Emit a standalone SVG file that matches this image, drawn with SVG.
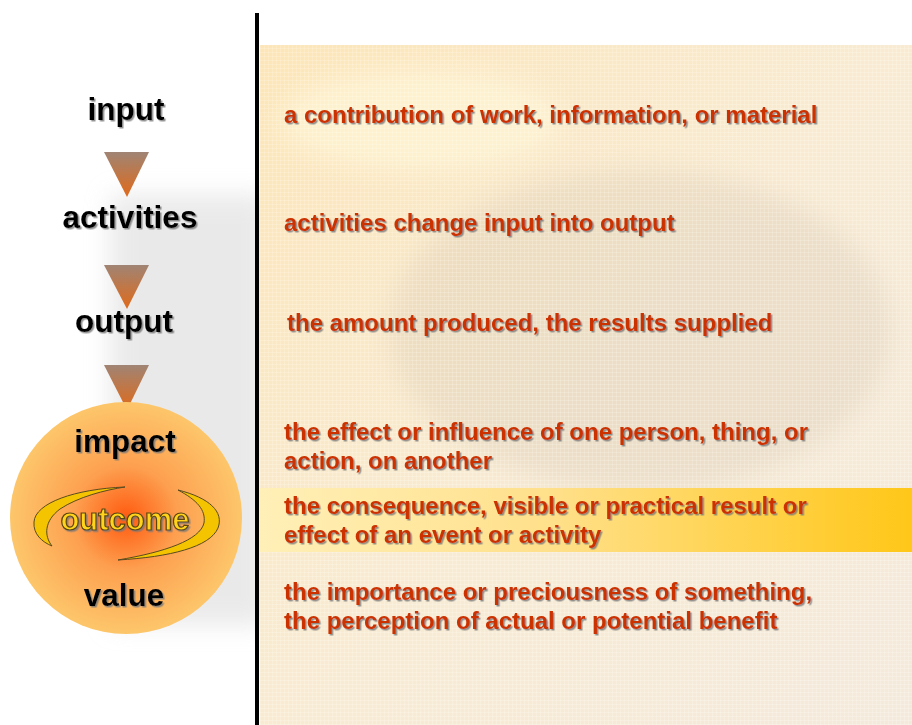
<svg xmlns="http://www.w3.org/2000/svg" width="912" height="725" viewBox="0 0 912 725">
<defs>
<style>
.lbl{font-family:"Liberation Sans",Arial,sans-serif;font-weight:bold;font-size:31.5px;fill:#000;text-anchor:middle}
.def{font-family:"Liberation Sans",Arial,sans-serif;font-weight:bold;font-size:24px;fill:#cc3300}
.sh{filter:url(#shadow)}
</style>
<filter id="shadow" x="-10%" y="-30%" width="120%" height="160%">
<feDropShadow dx="1.5" dy="1.5" stdDeviation="0.6" flood-color="#777" flood-opacity="0.8"/>
</filter>
<filter id="blur" x="-20%" y="-20%" width="140%" height="140%"><feGaussianBlur stdDeviation="12"/></filter>
<linearGradient id="tri" x1="0" y1="0" x2="0" y2="1">
<stop offset="0" stop-color="#a08474"/><stop offset="1" stop-color="#e06a1a"/>
</linearGradient>
<radialGradient id="circ" cx="0.5" cy="0.5" r="0.5">
<stop offset="0" stop-color="#ff5a10"/><stop offset="0.45" stop-color="#fda050"/><stop offset="1" stop-color="#fdc66a"/>
</radialGradient>
<linearGradient id="band" x1="0" y1="0" x2="1" y2="0">
<stop offset="0" stop-color="#fff0b8"/><stop offset="0.45" stop-color="#ffe08a"/><stop offset="1" stop-color="#ffc718"/>
</linearGradient>
<linearGradient id="panel" x1="0" y1="0" x2="1" y2="1">
<stop offset="0" stop-color="#fce6b8"/><stop offset="0.5" stop-color="#f8ebd2"/><stop offset="1" stop-color="#f4eadc"/>
</linearGradient>
<pattern id="grid" width="4" height="4" patternUnits="userSpaceOnUse">
<path d="M4 0H0V4" fill="none" stroke="#ffffff" stroke-opacity="0.35" stroke-width="1"/>
</pattern>
</defs>
<rect width="912" height="725" fill="#ffffff"/>
<rect x="110" y="195" width="160" height="430" fill="#dcdcdc" opacity="0.6" filter="url(#blur)"/>
<rect x="260" y="45" width="652" height="680" fill="url(#panel)"/>
<ellipse cx="640" cy="330" rx="250" ry="160" fill="#d8c8b0" opacity="0.35" filter="url(#blur)"/>
<ellipse cx="420" cy="120" rx="140" ry="50" fill="#fff8d8" opacity="0.6" filter="url(#blur)"/>
<rect x="260" y="45" width="652" height="680" fill="url(#grid)"/>
<rect x="258" y="488" width="654" height="64" fill="url(#band)"/>
<rect x="255" y="13" width="4" height="712" fill="#000"/>
<g id="connectors">
<polygon points="104,152 149,152 127,197" fill="url(#tri)"/>
<polygon points="104,265 149,265 127,309" fill="url(#tri)"/>
<polygon points="104,365 149,365 127,410" fill="url(#tri)"/>
</g>
<g id="node-input"><text class="lbl sh" x="126" y="120">input</text></g>
<g id="node-activities"><text class="lbl sh" x="130" y="228">activities</text></g>
<g id="node-output"><text class="lbl sh" x="124" y="332">output</text></g>
<g id="node-circle">
<circle cx="126" cy="518" r="116" fill="url(#circ)"/>
<text class="lbl sh" x="125" y="452">impact</text>
<path d="M125,487 C75,489 35,503 34,522 C33,534 42,542 52,546 C44,536 44,521 60,509 C78,497 105,490 125,487 Z" fill="#f5c400" stroke="#5a4a20" stroke-width="1"/>
<path d="M178,490 C210,498 224,512 218,528 C210,547 170,557 118,560 C165,552 200,540 204,523 C206,510 197,500 178,490 Z" fill="#f5c400" stroke="#5a4a20" stroke-width="1"/>
<text x="125" y="530" font-family="'Liberation Sans',Arial,sans-serif" font-weight="bold" font-size="31" fill="#ffd21a" stroke="#5a4510" stroke-width="1.2" text-anchor="middle" class="sh">outcome</text>
<text class="lbl sh" x="124" y="606">value</text>
</g>
<g id="defs-text">
<text class="def sh" x="284" y="123">a contribution of work, information, or material</text>
<text class="def sh" x="284" y="231">activities change input into output</text>
<text class="def sh" x="287" y="331">the amount produced, the results supplied</text>
<text class="def sh" x="284" y="440">the effect or influence of one person, thing, or</text>
<text class="def sh" x="284" y="469">action, on another</text>
<text class="def sh" x="284" y="514">the consequence, visible or practical result or</text>
<text class="def sh" x="284" y="543">effect of an event or activity</text>
<text class="def sh" x="284" y="600">the importance or preciousness of something,</text>
<text class="def sh" x="284" y="629">the perception of actual or potential benefit</text>
</g>
</svg>
